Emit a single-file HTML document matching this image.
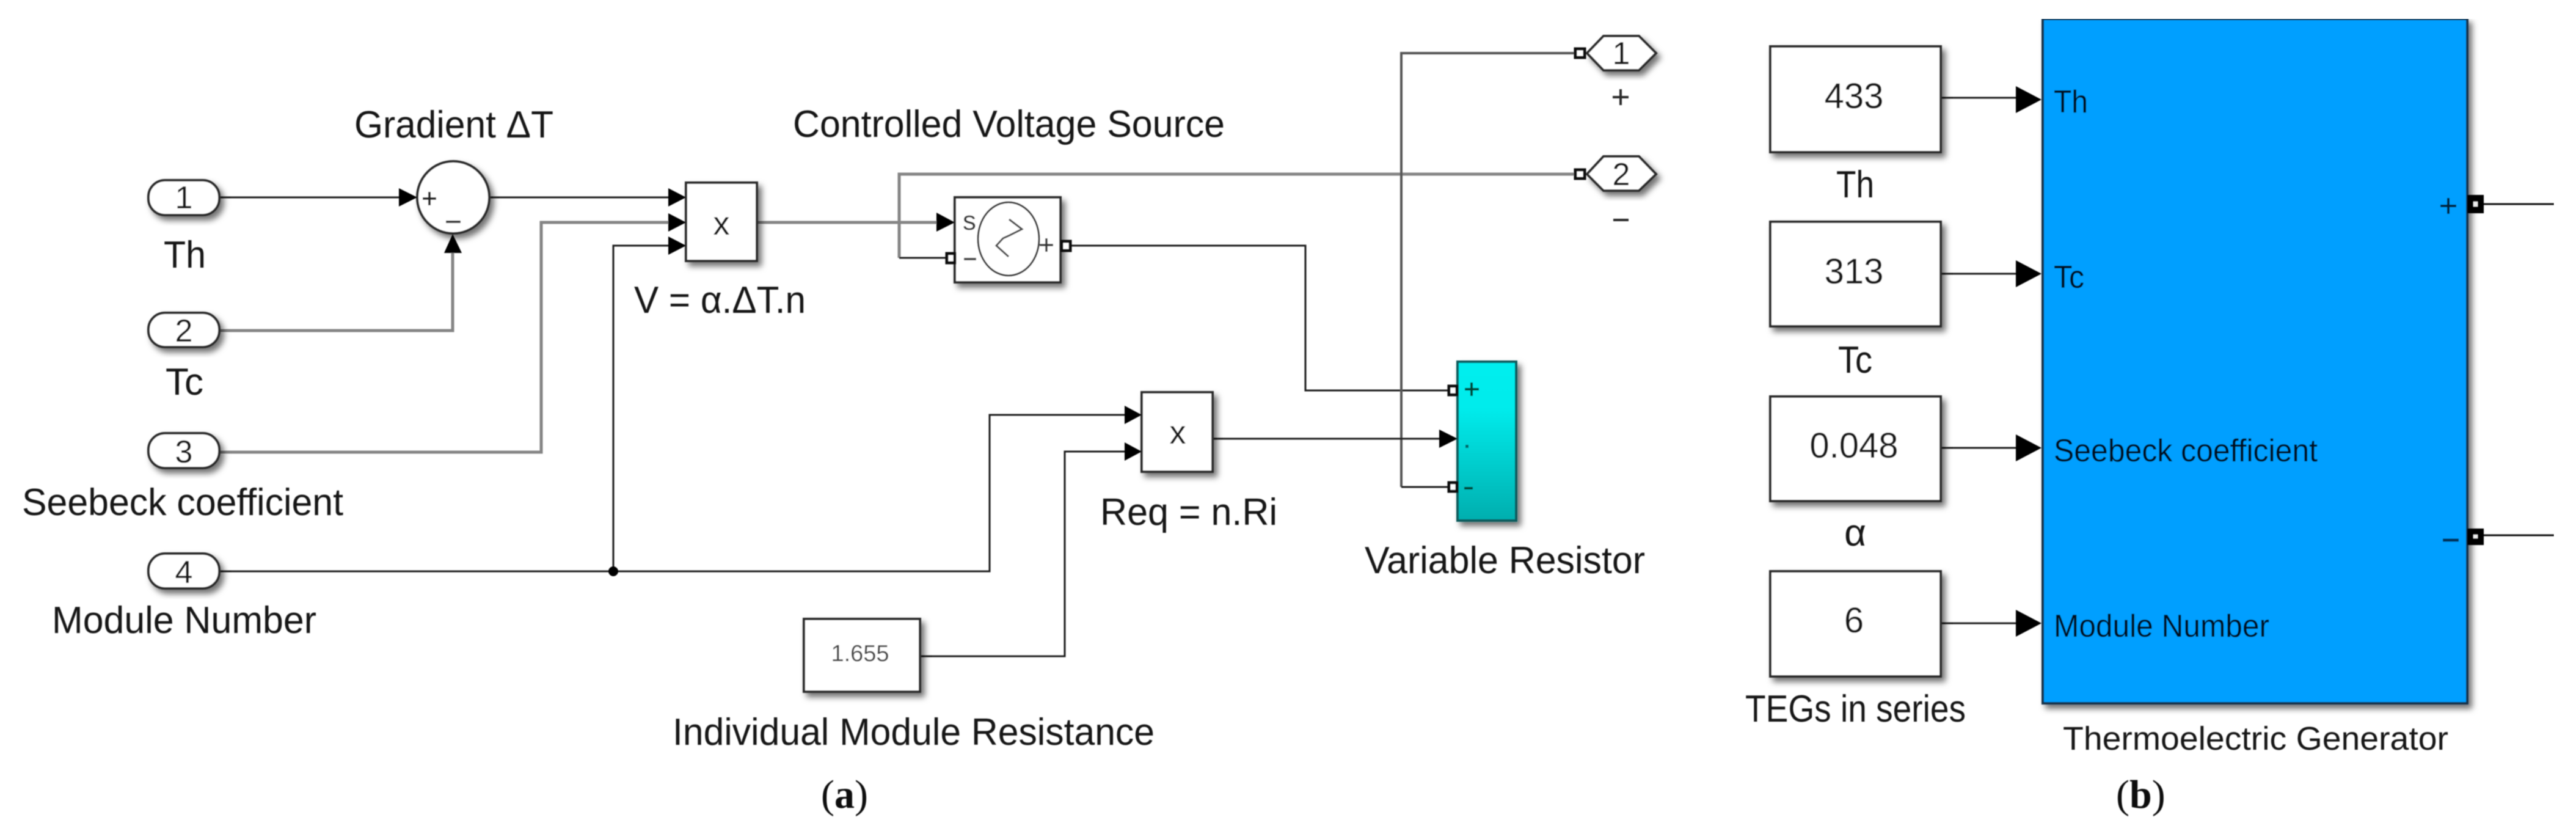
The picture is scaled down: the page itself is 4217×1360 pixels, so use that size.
<!DOCTYPE html>
<html><head><meta charset="utf-8"><style>
html,body{margin:0;padding:0;background:#fff;width:4217px;height:1360px;overflow:hidden}
svg{display:block}
text{font-family:"Liberation Sans",sans-serif;fill:#141414}
.s{font-family:"Liberation Serif",serif;fill:#111}
.d{fill:none;stroke:#1a1a1a;stroke-width:3}
.g{fill:none;stroke:#858585;stroke-width:5}
.h{fill:none;stroke:#555;stroke-width:4}
.b{fill:#fff;stroke:#2a2a2a;stroke-width:4;filter:url(#sh)}
.p{fill:#fff;stroke:#0a0a0a;stroke-width:5}
.m{text-anchor:middle}
.k{fill:#03101c}
</style></head><body>
<svg width="4217" height="1360" viewBox="0 0 4217 1360" xmlns="http://www.w3.org/2000/svg">
<defs>
<filter id="sh" x="-20%" y="-20%" width="150%" height="150%"><feDropShadow dx="6" dy="7" stdDeviation="5" flood-color="#000" flood-opacity=".55"/></filter>
<filter id="bl" x="0" y="0" width="100%" height="100%"><feGaussianBlur stdDeviation="0.9"/></filter>
<linearGradient id="cy" x1="0" y1="0" x2="0" y2="1"><stop offset="0" stop-color="#00eeee"/><stop offset=".3" stop-color="#00ebeb"/><stop offset="1" stop-color="#00aeae"/></linearGradient>
</defs>
<rect width="4217" height="1360" fill="#fff"/>
<g filter="url(#bl)">
<!-- wires (a) -->
<path class="d" d="M359 323H655"/>
<path class="d" d="M800 323H1096"/>
<path class="g" d="M359 541H741V412"/>
<path class="g" d="M359 740H886V364H1096"/>
<path class="d" d="M359 935H1620V679H1843"/>
<path class="d" d="M1004 935V402H1096"/>
<path class="g" d="M1239 364H1535"/>
<path class="g" d="M2577 285H1472V422"/>
<path class="d" d="M1472 422H1550"/>
<path class="d" d="M1754 402H2137V639H2372"/>
<path class="h" d="M2294 797V87H2579"/>
<path class="d" d="M2294 797H2372"/>
<path class="d" d="M1985 718H2358"/>
<path class="d" d="M1506 1074H1743V739H1843"/>
<circle cx="1004" cy="935" r="8" fill="#000"/>

<!-- inports -->
<rect class="b" x="243" y="295" width="116" height="57" rx="27"/>
<rect class="b" x="243" y="512" width="116" height="56" rx="27"/>
<rect class="b" x="243" y="709" width="116" height="57" rx="27"/>
<rect class="b" x="243" y="906" width="116" height="57" rx="27"/>
<text class="m" x="301" y="341" font-size="52">1</text>
<text class="m" x="301" y="559" font-size="52">2</text>
<text class="m" x="301" y="757" font-size="52">3</text>
<text class="m" x="301" y="954" font-size="52">4</text>
<text x="268" y="438" font-size="62" textLength="69" lengthAdjust="spacingAndGlyphs">Th</text>
<text x="271" y="646" font-size="62" textLength="62" lengthAdjust="spacingAndGlyphs">Tc</text>
<text x="36" y="843" font-size="62" textLength="526" lengthAdjust="spacingAndGlyphs">Seebeck coefficient</text>
<text x="85" y="1036" font-size="62" textLength="433" lengthAdjust="spacingAndGlyphs">Module Number</text>

<!-- sum -->
<circle class="b" cx="742" cy="323" r="59"/>
<path d="M692 325H714M703 314V336" stroke="#222" stroke-width="4" fill="none"/>
<path d="M730 363H754" stroke="#333" stroke-width="4" fill="none"/>
<path d="M653 308L683 323L653 338Z" fill="#000"/>
<path d="M741 383L756 414H727Z" fill="#000"/>
<text x="580" y="225" font-size="62" textLength="326" lengthAdjust="spacingAndGlyphs">Gradient ΔT</text>

<!-- mult 1 -->
<rect class="b" x="1123" y="299" width="116" height="128"/>
<text class="m" x="1181" y="384" font-size="54">x</text>
<path d="M1094 308L1123 323L1094 338ZM1094 349L1123 364L1094 379ZM1094 387L1123 402L1094 417Z" fill="#000"/>
<text x="1038" y="512" font-size="62" textLength="281" lengthAdjust="spacingAndGlyphs">V = α.ΔT.n</text>

<!-- CVS -->
<rect class="b" x="1563" y="323" width="173" height="139"/>
<ellipse cx="1651" cy="391" rx="50" ry="60" fill="none" stroke="#333" stroke-width="3"/>
<path d="M1652 359L1673 375L1653 385L1642 390L1631 402L1651 420" fill="none" stroke="#444" stroke-width="3"/>
<text class="m" x="1587" y="376" font-size="44" style="fill:#333">s</text>
<path d="M1578 424H1598" stroke="#444" stroke-width="4"/>
<path d="M1702 401H1724M1713 390V412" stroke="#333" stroke-width="3.5" fill="none"/>
<path d="M1533 348L1563 364L1533 379Z" fill="#000"/>
<rect class="p" x="1550" y="415" width="13" height="15"/>
<rect class="p" x="1738" y="395" width="14" height="15"/>
<text x="1298" y="224" font-size="62" textLength="707" lengthAdjust="spacingAndGlyphs">Controlled Voltage Source</text>

<!-- outports -->
<path class="b" d="M2598 87L2625 59H2683L2711 87L2683 115H2625Z"/>
<path class="b" d="M2598 285L2625 256H2683L2711 285L2683 312H2625Z"/>
<rect class="p" x="2579" y="80" width="15" height="14"/>
<rect class="p" x="2579" y="278" width="15" height="14"/>
<text class="m" x="2654" y="105" font-size="52">1</text>
<text class="m" x="2654" y="303" font-size="52">2</text>
<path d="M2640 159H2666M2653 146V172M2641 360H2666" stroke="#2a2a2a" stroke-width="4" fill="none"/>

<!-- mult 2 -->
<rect class="b" x="1869" y="642" width="116" height="130"/>
<text class="m" x="1928" y="726" font-size="54">x</text>
<path d="M1841 664L1869 679L1841 694ZM1841 724L1869 739L1841 754Z" fill="#000"/>
<text x="1801" y="859" font-size="62" textLength="290" lengthAdjust="spacingAndGlyphs">Req = n.Ri</text>

<!-- constant -->
<rect class="b" x="1316" y="1013" width="190" height="119"/>
<text class="m" x="1408" y="1082" font-size="38" style="fill:#444">1.655</text>
<text x="1101" y="1219" font-size="62" textLength="789" lengthAdjust="spacingAndGlyphs">Individual Module Resistance</text>

<!-- variable resistor -->
<rect class="b" x="2386" y="592" width="96" height="260" style="fill:url(#cy);stroke:#0c5a5c"/>
<rect class="p" x="2372" y="632" width="13" height="14"/>
<rect class="p" x="2372" y="790" width="13" height="14"/>
<path d="M2356 703L2386 718L2356 733Z" fill="#000"/>
<path d="M2398 637H2421M2409 626V648" stroke="#043" stroke-width="4" fill="none"/>
<path d="M2397 799H2411" stroke="#043" stroke-width="4" fill="none"/>
<rect x="2399" y="728" width="5" height="5" fill="#066"/>
<text x="2234" y="938" font-size="62" textLength="459" lengthAdjust="spacingAndGlyphs">Variable Resistor</text>

<!-- caption a -->
<text class="s" x="1344" y="1322" font-size="66">(<tspan font-weight="bold">a</tspan>)</text>

<!-- (b) -->
<path class="d" d="M3177 160H3302M3177 448H3302M3177 733H3302M3177 1020H3302"/>
<rect class="b" x="2898" y="76" width="279" height="173"/>
<rect class="b" x="2898" y="363" width="279" height="171"/>
<rect class="b" x="2898" y="649" width="279" height="171"/>
<rect class="b" x="2898" y="935" width="279" height="172"/>
<text class="m" x="3035" y="177" font-size="58">433</text>
<text class="m" x="3035" y="464" font-size="58">313</text>
<text class="m" x="3035" y="749" font-size="58">0.048</text>
<text class="m" x="3035" y="1035" font-size="58">6</text>
<text x="3006" y="323" font-size="62" textLength="62" lengthAdjust="spacingAndGlyphs">Th</text>
<text x="3009" y="610" font-size="62" textLength="56" lengthAdjust="spacingAndGlyphs">Tc</text>
<text class="m" x="3037" y="893" font-size="62">α</text>
<text x="2857" y="1181" font-size="62" textLength="361" lengthAdjust="spacingAndGlyphs">TEGs in series</text>

<rect class="b" x="3344" y="31" width="695" height="1120" style="fill:#009fff;stroke:#17324a"/>
<path d="M3300 141L3342 163L3300 185ZM3300 426L3342 448L3300 470ZM3300 711L3342 733L3300 755ZM3300 998L3342 1020L3300 1042Z" fill="#000"/>
<text class="k" x="3362" y="184" font-size="52" textLength="56" lengthAdjust="spacingAndGlyphs">Th</text>
<text class="k" x="3362" y="471" font-size="52" textLength="50" lengthAdjust="spacingAndGlyphs">Tc</text>
<text class="k" x="3362" y="755" font-size="52" textLength="432" lengthAdjust="spacingAndGlyphs">Seebeck coefficient</text>
<text class="k" x="3362" y="1042" font-size="52" textLength="353" lengthAdjust="spacingAndGlyphs">Module Number</text>
<path d="M3995 337H4021M4008 324V350" stroke="#06233a" stroke-width="4" fill="none"/>
<path d="M3999 884H4025" stroke="#06335a" stroke-width="5" fill="none"/>
<rect x="4039" y="319" width="27" height="30" fill="#000"/>
<rect x="4049" y="330" width="7" height="8" fill="#eee"/>
<rect x="4039" y="865" width="27" height="27" fill="#000"/>
<rect x="4049" y="875" width="7" height="6" fill="#eee"/>
<path d="M4066 334H4181M4066 876H4181" stroke="#111" stroke-width="3" fill="none"/>
<text x="3377" y="1227" font-size="54" textLength="631" lengthAdjust="spacingAndGlyphs">Thermoelectric Generator</text>
<text class="s" x="3464" y="1322" font-size="66">(<tspan font-weight="bold">b</tspan>)</text>
</g>
</svg>
</body></html>
